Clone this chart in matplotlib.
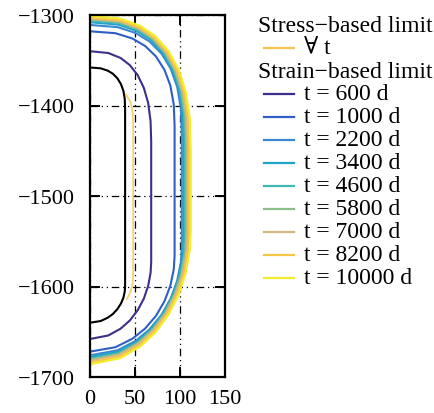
import matplotlib
matplotlib.use('Agg')
import matplotlib.pyplot as plt
from matplotlib.lines import Line2D

# contour of the cavern wall (no legend entry)
x_black = [0, 11.7, 19.5, 25.4, 30.4, 34.3, 37.1, 38.6, 39, 39, 38.6, 37.1, 34.3, 30.4, 25.4, 19.5, 11.7, 0]
y_black = [-1358, -1358.9, -1361.4, -1364.9, -1369.9, -1376.2, -1383.7, -1392.7, -1403,
           -1600, -1605.6, -1612.5, -1619, -1625, -1630.4, -1634.6, -1638.2, -1640]

# stress-based limit, same for all t
x_stress = [40, 45, 47.5, 48, 48, 47.5, 45, 41]
y_stress = [-1388, -1396, -1408, -1425, -1580, -1596, -1606, -1614]

# strain-based limits
x_600 = [0, 20.4, 34, 44.2, 53, 59.8, 64.6, 67.3, 68, 68, 67.3, 64.6, 59.8, 53, 44.2, 34, 20.4, 0]
y_600 = [-1340, -1342, -1347.5, -1355.3, -1366.5, -1380.5, -1397.1, -1417.2, -1440,
         -1573, -1585, -1599.5, -1613.4, -1626.2, -1637.6, -1646.6, -1654.1, -1658]
x_1000 = [0, 28.2, 47, 61.1, 73.3, 82.7, 89.3, 93.1, 94, 94, 93.1, 89.3, 82.7, 73.3, 61.1, 47, 28.2, 0]
y_1000 = [-1318, -1320.1, -1325.9, -1334.1, -1345.8, -1360.5, -1378, -1399.1, -1423,
          -1566, -1580.9, -1599.1, -1616.3, -1632.4, -1646.6, -1657.8, -1667.1, -1672]
x_2200 = [0, 30.6, 51, 66.3, 79.6, 89.8, 96.9, 101, 102, 102, 101, 96.9, 89.8, 79.6, 66.3, 51, 30.6, 0]
y_2200 = [-1311, -1313.4, -1320, -1329.4, -1342.8, -1359.6, -1379.5, -1403.6, -1431,
          -1556, -1572.9, -1593.4, -1613, -1631.1, -1647.2, -1659.9, -1670.5, -1676]
x_3400 = [0, 31.2, 52, 67.6, 81.1, 91.5, 98.8, 103, 104, 104, 103, 98.8, 91.5, 81.1, 67.6, 52, 31.2, 0]
y_3400 = [-1308, -1310.6, -1317.6, -1327.6, -1341.9, -1359.8, -1381.1, -1406.8, -1436,
          -1550, -1568, -1589.9, -1610.8, -1630.1, -1647.3, -1660.8, -1672.1, -1678]
x_4600 = [0, 31.7, 52.8, 68.6, 82.3, 92.8, 100.2, 104.4, 105.5, 105.5, 104.4, 100.2, 92.8, 82.3, 68.6, 52.8, 31.7, 0]
y_4600 = [-1306, -1308.7, -1316.1, -1326.5, -1341.5, -1360.3, -1382.5, -1409.4, -1440,
          -1546, -1564.9, -1587.8, -1609.6, -1629.9, -1647.8, -1662, -1673.8, -1680]
x_5800 = [0, 32.1, 53.5, 69.6, 83.5, 94.2, 101.7, 105.9, 107, 107, 105.9, 101.7, 94.2, 83.5, 69.6, 53.5, 32.1, 0]
y_5800 = [-1305, -1307.8, -1315.4, -1326.1, -1341.6, -1360.9, -1383.8, -1411.5, -1443,
          -1543, -1562.5, -1586.1, -1608.5, -1629.4, -1647.9, -1662.5, -1674.7, -1681]
x_7000 = [0, 32.6, 54.3, 70.5, 84.6, 95.5, 103.1, 107.4, 108.5, 108.5, 107.4, 103.1, 95.5, 84.6, 70.5, 54.3, 32.6, 0]
y_7000 = [-1304, -1306.8, -1314.6, -1325.6, -1341.4, -1361.1, -1384.5, -1412.9, -1445,
          -1541, -1560.9, -1585, -1608, -1629.3, -1648.2, -1663.1, -1675.5, -1682]
x_8200 = [0, 33, 55, 71.5, 85.8, 96.8, 104.5, 108.9, 110, 110, 108.9, 104.5, 96.8, 85.8, 71.5, 55, 33, 0]
y_8200 = [-1303, -1305.9, -1313.8, -1325, -1341.2, -1361.3, -1385.2, -1414.2, -1447,
          -1540, -1560.3, -1584.9, -1608.4, -1630.1, -1649.4, -1664.7, -1677.4, -1684]
x_10000 = [0, 33.6, 56, 72.8, 87.4, 98.6, 106.4, 110.9, 112, 112, 110.9, 106.4, 98.6, 87.4, 72.8, 56, 33.6, 0]
y_10000 = [-1301, -1303.9, -1312, -1323.5, -1340, -1360.5, -1384.9, -1414.5, -1448,
           -1539, -1559.7, -1584.9, -1608.8, -1631, -1650.7, -1666.3, -1679.2, -1686]

times = [600, 1000, 2200, 3400, 4600, 5800, 7000, 8200, 10000]
strain_x = [x_600, x_1000, x_2200, x_3400, x_4600, x_5800, x_7000, x_8200, x_10000]
strain_y = [y_600, y_1000, y_2200, y_3400, y_4600, y_5800, y_7000, y_8200, y_10000]
colors = ['#3e2d8a', '#2f5fc4', '#3a87d0', '#23a3c9', '#3fb8b4',
          '#8dbf8a', '#d2b785', '#f7c548', '#f2ef2a']
stress_color = '#f5c451'

plt.rcParams['font.family'] = ['Liberation Serif', 'DejaVu Serif']

W, H = 434, 414
fig = plt.figure(figsize=(W / 100, H / 100), dpi=100)
ax = fig.add_axes([90 / W, 36 / H, 135 / W, 362 / H])

ax.plot(x_black, y_black, color='k', lw=1.5)
ax.plot(x_stress, y_stress, color=stress_color, lw=1.3, alpha=0.8)
for xs, ys, c in zip(strain_x, strain_y, colors):
    ax.plot(xs, ys, color=c, lw=1.5)

ax.set_xlim(0, 150)
ax.set_ylim(-1700, -1300)
ax.set_xticks([0, 50, 100, 150])
ax.set_yticks([-1700, -1600, -1500, -1400, -1300])
ax.grid(True, color='k', lw=0.9, linestyle=(0, (6, 3, 1, 3, 1, 3)))
ax.tick_params(direction='in', length=7, width=1.4, top=True, right=True, labelsize=16)
ax.tick_params(axis='y', pad=11)
ax.tick_params(axis='x', pad=9)
for s in ax.spines.values():
    s.set_linewidth(1.6)

# legend, built by hand so the group headings sit flush left
def fy(py):
    return 1 - py / H

rows = 26
step = 23
fig.text(258 / W, fy(rows), 'Stress\u2212based limit', fontsize=17, va='center')
fig.add_artist(Line2D([264 / W, 294 / W], [fy(rows + step)] * 2, color=stress_color,
                      lw=1.6, transform=fig.transFigure))
fig.text(304 / W, fy(rows + step), '\u2200 t', fontsize=17, va='center')
fig.text(258 / W, fy(rows + 2 * step), 'Strain\u2212based limit', fontsize=17, va='center')
for i, (t, c) in enumerate(zip(times, colors)):
    yy = fy(rows + (3 + i) * step)
    fig.add_artist(Line2D([264 / W, 294 / W], [yy, yy], color=c, lw=1.6,
                          transform=fig.transFigure))
    fig.text(304 / W, yy, 't = %d d' % t, fontsize=17, va='center')

fig.savefig('out.png', dpi=100)
